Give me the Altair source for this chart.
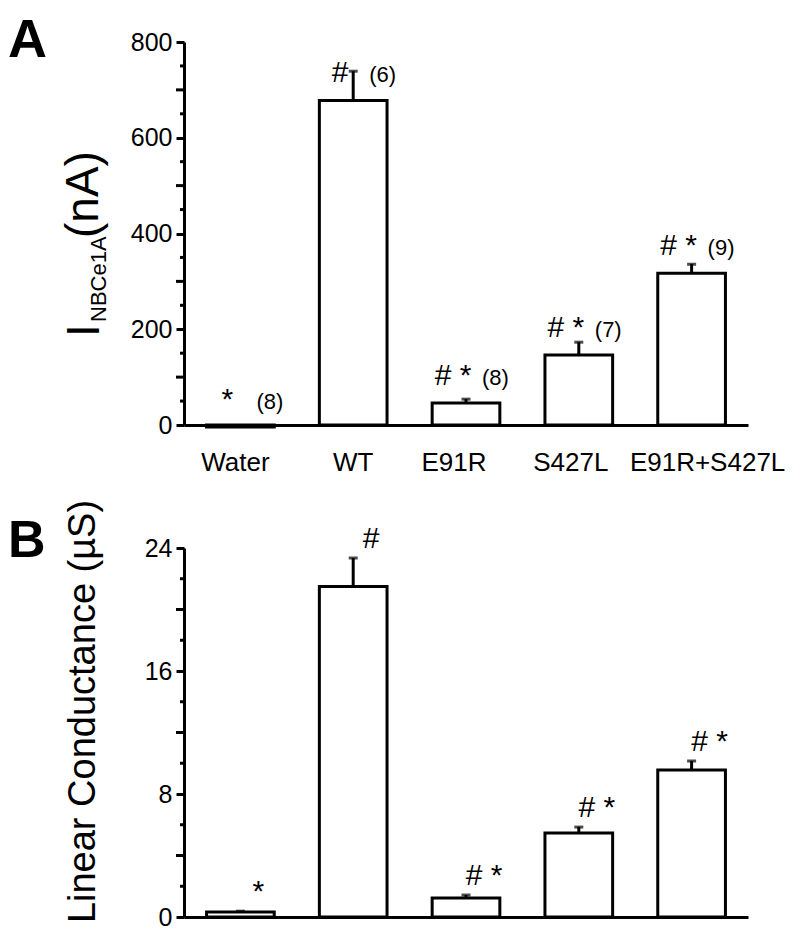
import altair as alt
import pandas as pd

# ---------------- data ----------------
groups = ["Water", "WT", "E91R", "S427L", "E91R+S427L"]

current_mean = [-4, 678, 46, 146, 317]
current_err = [3, 61, 8, 27, 19]
sig_A = ["*", "#", "# *", "# *", "# *"]
n_A = ["(8)", "(6)", "(8)", "(7)", "(9)"]

cond_mean = [0.33, 21.5, 1.24, 5.46, 9.56]
cond_err = [0.05, 1.85, 0.19, 0.39, 0.59]
sig_B = ["*", "#", "# *", "# *", "# *"]

ticks_A_major = [0, 200, 400, 600, 800]
ticks_A_mid = [100, 300, 500, 700]
ticks_A_small = [50, 150, 250, 350, 450, 550, 650, 750]

ticks_B_major = [0, 8, 16, 24]
ticks_B_mid = [4, 12, 20]
ticks_B_small = [2, 6, 10, 14, 18, 22]

NARROW = "'Liberation Sans Narrow', 'Arial Narrow', 'Liberation Sans', Arial, sans-serif"
SANS = "'Liberation Sans', Arial, Helvetica, sans-serif"

W = 564
HA = 383
HB = 369

dfA = pd.DataFrame({
    "group": groups,
    "mean": current_mean,
    "top": [m + e for m, e in zip(current_mean, current_err)],
    "sig": sig_A,
    "n": n_A,
})
dfB = pd.DataFrame({
    "group": groups,
    "mean": cond_mean,
    "top": [m + e for m, e in zip(cond_mean, cond_err)],
    "sig": sig_B,
})

LABEL_SHIFT = "datum.value == 'E91R+S427L' ? 16 : (datum.value == 'S427L' ? -8 : (datum.value == 'E91R' ? -12 : (datum.value == 'Water' ? -5 : 0)))"


def make_x(show_labels):
    return alt.X(
        "group:N",
        sort=groups,
        scale=alt.Scale(paddingInner=0.4, paddingOuter=0.2),
        axis=alt.Axis(
            title=None,
            labelAngle=0,
            ticks=False,
            labels=show_labels,
            domainWidth=3,
            domainColor="black",
            labelFont=SANS,
            labelFontSize=26,
            labelColor="black",
            labelPadding=24,
            labelOverlap=False,
            labelOffset={"expr": LABEL_SHIFT},
        ),
    )


def make_y_axis(major, title=None):
    kw = dict(
        values=major,
        tickSize=8,
        tickWidth=3,
        tickColor="black",
        domainWidth=3,
        domainColor="black",
        labelFont=NARROW,
        labelFontSize=25,
        labelColor="black",
        labelPadding=4,
        grid=False,
        title=title,
    )
    if title:
        kw.update(
            titleFont=SANS,
            titleFontSize=38,
            titleFontWeight="normal",
            titleColor="black",
            titleAngle=270,
            titleAlign="center",
            titleBaseline="alphabetic",
            titleX=-90,
            titleY=163,
        )
    return alt.Axis(**kw)


def panel(df, domain, major, mid, small, show_labels, title=None):
    yscale = alt.Scale(domain=domain, nice=False, zero=True)
    yaxis = make_y_axis(major, title)
    xenc = make_x(show_labels)

    def Y(field):
        return alt.Y(field, scale=yscale, axis=yaxis)

    base = alt.Chart(df)
    bars = base.mark_bar(fill="white", stroke="black", strokeWidth=3).encode(
        x=xenc, y=Y("mean:Q"),
    )
    err = base.mark_rule(color="black", strokeWidth=3).encode(
        x=xenc, y=Y("mean:Q"), y2="top:Q",
    )
    cap = base.mark_tick(color="black", thickness=3, size=9).encode(
        x=xenc, y=Y("top:Q"),
    )
    mid_t = alt.Chart(pd.DataFrame({"v": mid})).mark_rule(color="black", strokeWidth=3).encode(
        y=Y("v:Q"), x=alt.value(-8), x2=alt.value(0)
    )
    small_t = alt.Chart(pd.DataFrame({"v": small})).mark_rule(color="black", strokeWidth=3).encode(
        y=Y("v:Q"), x=alt.value(-4), x2=alt.value(0)
    )
    return [bars, err, cap, mid_t, small_t], xenc, Y


one = pd.DataFrame({"k": [0]})

# ---------------- panel A ----------------
layersA, xA, YA = panel(dfA, [0, 800], ticks_A_major, ticks_A_mid, ticks_A_small, True)
baseA = alt.Chart(dfA)
sigA = baseA.mark_text(font=SANS, fontSize=30, align="center", baseline="alphabetic",
                       dx=-13, dy=-18, color="black").encode(
    x=xA, y=YA("mean:Q"), text="sig:N",
)
nA = baseA.mark_text(font=NARROW, fontSize=22, align="left", baseline="alphabetic",
                     dx=16, dy=-18, color="black").encode(
    x=xA, y=YA("mean:Q"), text="n:N",
)
letterA = alt.Chart(one).mark_text(text="A", font=SANS, fontWeight="bold", fontSize=54,
                                   align="left", baseline="alphabetic", color="black").encode(
    x=alt.value(-176), y=alt.value(15)
)
tI = alt.Chart(one).mark_text(text="I", font=SANS, fontSize=46, angle=270,
                              align="left", baseline="alphabetic", color="black").encode(
    x=alt.value(-85), y=alt.value(295)
)
tSub = alt.Chart(one).mark_text(text="NBCe1A", font=SANS, fontSize=22, angle=270,
                                align="left", baseline="alphabetic", color="black").encode(
    x=alt.value(-78), y=alt.value(280)
)
tUnit = alt.Chart(one).mark_text(text="(nA)", font=SANS, fontSize=46, angle=270,
                                 align="left", baseline="alphabetic", color="black").encode(
    x=alt.value(-86), y=alt.value(196)
)
chartA = alt.layer(*layersA, sigA, nA, letterA, tI, tSub, tUnit).properties(width=W, height=HA)

# ---------------- panel B ----------------
layersB, xB, YB = panel(dfB, [0, 24], ticks_B_major, ticks_B_mid, ticks_B_small, False,
                        title="Linear Conductance (µS)")
baseB = alt.Chart(dfB)
sigB = baseB.mark_text(font=SANS, fontSize=30, align="center", baseline="alphabetic",
                       dx=18, dy=-10, color="black").encode(
    x=xB, y=YB("top:Q"), text="sig:N",
)
letterB = alt.Chart(one).mark_text(text="B", font=SANS, fontWeight="bold", fontSize=52,
                                   align="left", baseline="alphabetic", color="black").encode(
    x=alt.value(-176), y=alt.value(9)
)
chartB = alt.layer(*layersB, sigB, letterB).properties(width=W, height=HB)

chart = alt.vconcat(chartA, chartB, spacing=123, bounds="flush").properties(
    padding={"top": 6, "left": 0, "right": 0, "bottom": 0}, background="white"
).configure_view(stroke=None)

chart.save("out.html", embed_options={"renderer": "svg", "actions": False})
